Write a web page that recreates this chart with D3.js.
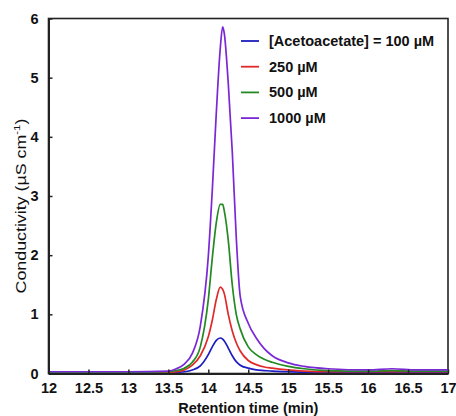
<!DOCTYPE html>
<html>
<head>
<meta charset="utf-8">
<script src="https://cdn.jsdelivr.net/npm/d3@7"></script>
<style>
  body { margin: 0; background: #fff; }
  svg { display: block; font-family: "Liberation Sans", Arial, sans-serif; font-weight: bold; }
</style>
</head>
<body>
<div id="chart"></div>
<script>
// Retention time grid (min)
var times = [12, 13, 13.5, 13.6, 13.7, 13.8, 13.9, 14.0, 14.05, 14.1, 14.15, 14.18, 14.2, 14.25, 14.3, 14.35, 14.4, 14.5, 14.6, 14.7, 14.8, 15.0, 15.2, 15.5, 16.0, 16.3, 16.6, 17];

// Conductivity (uS/cm) for each concentration
var c100  = [0.01, 0.01, 0.01, 0.02, 0.03, 0.06, 0.13, 0.32, 0.45, 0.56, 0.60, 0.58, 0.55, 0.43, 0.30, 0.20, 0.14, 0.09, 0.06, 0.05, 0.04, 0.03, 0.02, 0.02, 0.02, 0.02, 0.02, 0.02];
var c250  = [0.02, 0.02, 0.02, 0.03, 0.06, 0.14, 0.30, 0.62, 0.90, 1.25, 1.46, 1.42, 1.35, 1.00, 0.72, 0.52, 0.38, 0.22, 0.15, 0.11, 0.09, 0.06, 0.04, 0.03, 0.03, 0.03, 0.03, 0.03];
var c500  = [0.02, 0.02, 0.03, 0.05, 0.09, 0.19, 0.45, 1.25, 1.95, 2.55, 2.86, 2.86, 2.75, 2.25, 1.50, 1.00, 0.75, 0.45, 0.32, 0.24, 0.19, 0.12, 0.08, 0.05, 0.04, 0.05, 0.04, 0.04];
var c1000 = [0.03, 0.03, 0.04, 0.08, 0.16, 0.34, 0.80, 1.98, 3.10, 4.40, 5.50, 5.86, 5.75, 4.90, 3.75, 2.30, 1.30, 0.85, 0.60, 0.42, 0.30, 0.18, 0.12, 0.08, 0.06, 0.08, 0.06, 0.06];

var labels = ['[Acetoacetate] = 100 \u00b5M', '250 \u00b5M', '500 \u00b5M', '1000 \u00b5M'];
var colors = ['#1c1cc0', '#e02a2a', '#238a23', '#7a28d6'];
var xTicks = [12, 12.5, 13, 13.5, 14, 14.5, 15, 15.5, 16, 16.5, 17];
var yTicks = [0, 1, 2, 3, 4, 5, 6];

var series = [c100, c250, c500, c1000];

var width = 456, height = 416;
var margin = { left: 48.5, right: 8, top: 18.5, bottom: 42.5 };
var fs = '14.5px';

var svg = d3.select('#chart').append('svg')
  .attr('width', width)
  .attr('height', height);

var x = d3.scaleLinear().domain([12, 17]).range([margin.left, width - margin.right]);
var y = d3.scaleLinear().domain([0, 6]).range([height - margin.bottom, margin.top]);

// plot frame
svg.append('rect')
  .attr('x', x(12)).attr('y', y(6))
  .attr('width', x(17) - x(12)).attr('height', y(0) - y(6))
  .attr('fill', 'none').attr('stroke', '#222').attr('stroke-width', 1.6);

// curves
var line = d3.line()
  .x(function (d, i) { return x(times[i]); })
  .y(function (d) { return y(d); })
  .curve(d3.curveMonotoneX);

series.forEach(function (s, k) {
  svg.append('path')
    .datum(s)
    .attr('d', line)
    .attr('fill', 'none')
    .attr('stroke', colors[k])
    .attr('stroke-width', 1.7);
});

// axes (ticks pointing inward)
var xAxis = d3.axisBottom(x).tickValues(xTicks).tickSizeInner(-4).tickSizeOuter(0).tickPadding(9)
  .tickFormat(function (d) { return d; });
var gx = svg.append('g').attr('transform', 'translate(0,' + y(0) + ')').call(xAxis);
gx.select('.domain').attr('stroke', '#222').attr('stroke-width', 2);
gx.selectAll('.tick line').attr('stroke', '#222').attr('stroke-width', 1.5);
gx.selectAll('.tick text').attr('fill', '#111').style('font-size', fs).style('font-weight', 'bold');

var yAxis = d3.axisLeft(y).tickValues(yTicks).tickSizeInner(-4).tickSizeOuter(0).tickPadding(10)
  .tickFormat(d3.format('d'));
var gy = svg.append('g').attr('transform', 'translate(' + x(12) + ',0)').call(yAxis);
gy.select('.domain').attr('stroke', '#222').attr('stroke-width', 2);
gy.selectAll('.tick line').attr('stroke', '#222').attr('stroke-width', 1.5);
gy.selectAll('.tick text').attr('fill', '#111').style('font-size', fs).style('font-weight', 'bold');

// axis titles
svg.append('text')
  .attr('x', (x(12) + x(17)) / 2).attr('y', 412.5)
  .attr('text-anchor', 'middle')
  .style('font-size', fs).attr('fill', '#111')
  .text('Retention time (min)');

var yt = svg.append('text')
  .attr('text-anchor', 'middle')
  .style('font-size', '14px').style('font-weight', 'normal').attr('fill', '#111');
yt.append('tspan').text('Conductivity (\u00b5S cm');
yt.append('tspan').attr('dy', -6).style('font-size', '9px').text('-1');
yt.append('tspan').attr('dy', 6).text(')');
var ytLen = yt.node().getBBox().width;
yt.attr('transform', 'translate(25.5,206) rotate(-90) scale(' + (175 / ytLen) + ',1)');

// legend
var legend = svg.append('g');
labels.forEach(function (t, k) {
  var ly = 41 + k * 25.7;
  legend.append('line')
    .attr('x1', 241).attr('x2', 259).attr('y1', ly).attr('y2', ly)
    .attr('stroke', colors[k]).attr('stroke-width', 1.8);
  legend.append('text')
    .attr('x', 269).attr('y', ly + 5)
    .style('font-size', fs).attr('fill', '#111')
    .text(t);
});
</script>
</body>
</html>
